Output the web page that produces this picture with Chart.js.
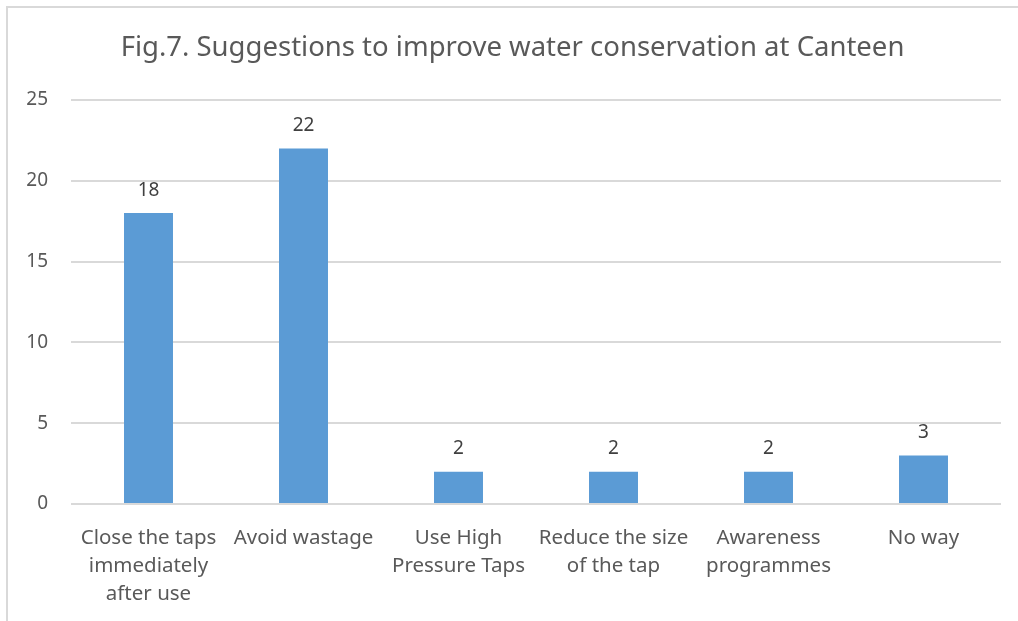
<!DOCTYPE html>
<html>
<head>
<meta charset="utf-8">
<script src="https://cdn.jsdelivr.net/npm/chart.js@4.4.1/dist/chart.umd.min.js"></script>
<style>
  html, body { margin: 0; padding: 0; background: #fff; }
  #frame {
    position: absolute; left: 0; top: 0; width: 1018px; height: 621px;
  }
  #edge {
    position: absolute; left: 6px; top: 6px; width: 1012px; height: 615px;
    border-top: 2px solid #d9d9d9; border-left: 2px solid #d9d9d9; box-sizing: border-box;
  }
  canvas { position: absolute; left: 0; top: 0; }
</style>
</head>
<body>
<div id="frame">
  <div id="edge"></div>
  <canvas id="c" width="1018" height="621"></canvas>
</div>
<script>
const chartTitle = 'Fig.7. Suggestions to improve water conservation at Canteen';
const categories = [
  ['Close the taps', 'immediately', 'after use'],
  ['Avoid wastage'],
  ['Use High', 'Pressure Taps'],
  ['Reduce the size', 'of the tap'],
  ['Awareness', 'programmes'],
  ['No way']
];
const responses = [18, 22, 2, 2, 2, 3];
const yTicks = [0, 5, 10, 15, 20, 25];

const FONT = "'Noto Sans', 'Open Sans', sans-serif";

// Writes each bar's value just above it
const valueLabels = {
  id: 'valueLabels',
  afterDatasetsDraw(chart) {
    const ctx = chart.ctx;
    const meta = chart.getDatasetMeta(0);
    ctx.save();
    ctx.font = '19px ' + FONT;
    ctx.fillStyle = '#404040';
    ctx.textAlign = 'center';
    ctx.textBaseline = 'middle';
    meta.data.forEach((bar, i) => {
      ctx.fillText(String(responses[i]), bar.x, bar.y - 23);
    });
    ctx.restore();
  }
};

new Chart(document.getElementById('c'), {
  type: 'bar',
  data: {
    labels: categories,
    datasets: [{
      data: responses,
      backgroundColor: '#5B9BD5',
      borderWidth: 0,
      barPercentage: 0.316,
      categoryPercentage: 1
    }]
  },
  options: {
    responsive: false,
    animation: false,
    devicePixelRatio: 1,
    layout: { padding: { left: 24, right: 17, top: 0, bottom: 0 } },
    plugins: {
      legend: { display: false },
      tooltip: { enabled: false },
      title: {
        display: true,
        text: chartTitle,
        color: '#595959',
        font: { family: FONT, size: 27.5, weight: 'normal', lineHeight: 1.2 },
        padding: { top: 32, bottom: 35 }
      }
    },
    scales: {
      x: {
        grid: { display: false, drawTicks: false },
        border: { display: false },
        ticks: {
          color: '#595959',
          font: { family: FONT, size: 20.5, lineHeight: 1.37 },
          padding: 20,
          maxRotation: 0,
          autoSkip: false
        },
        afterFit(scale) { scale.height = 117; }
      },
      y: {
        min: 0,
        max: 25,
        afterBuildTicks(scale) { scale.ticks = yTicks.map(v => ({ value: v })); },
        grid: { color: '#d9d9d9', lineWidth: 2, drawTicks: false },
        border: { display: false },
        ticks: {
          color: '#595959',
          font: { family: FONT, size: 19 },
          padding: 23
        },
        afterFit(scale) { scale.width = 47; }
      }
    }
  },
  plugins: [valueLabels]
});
</script>
</body>
</html>
